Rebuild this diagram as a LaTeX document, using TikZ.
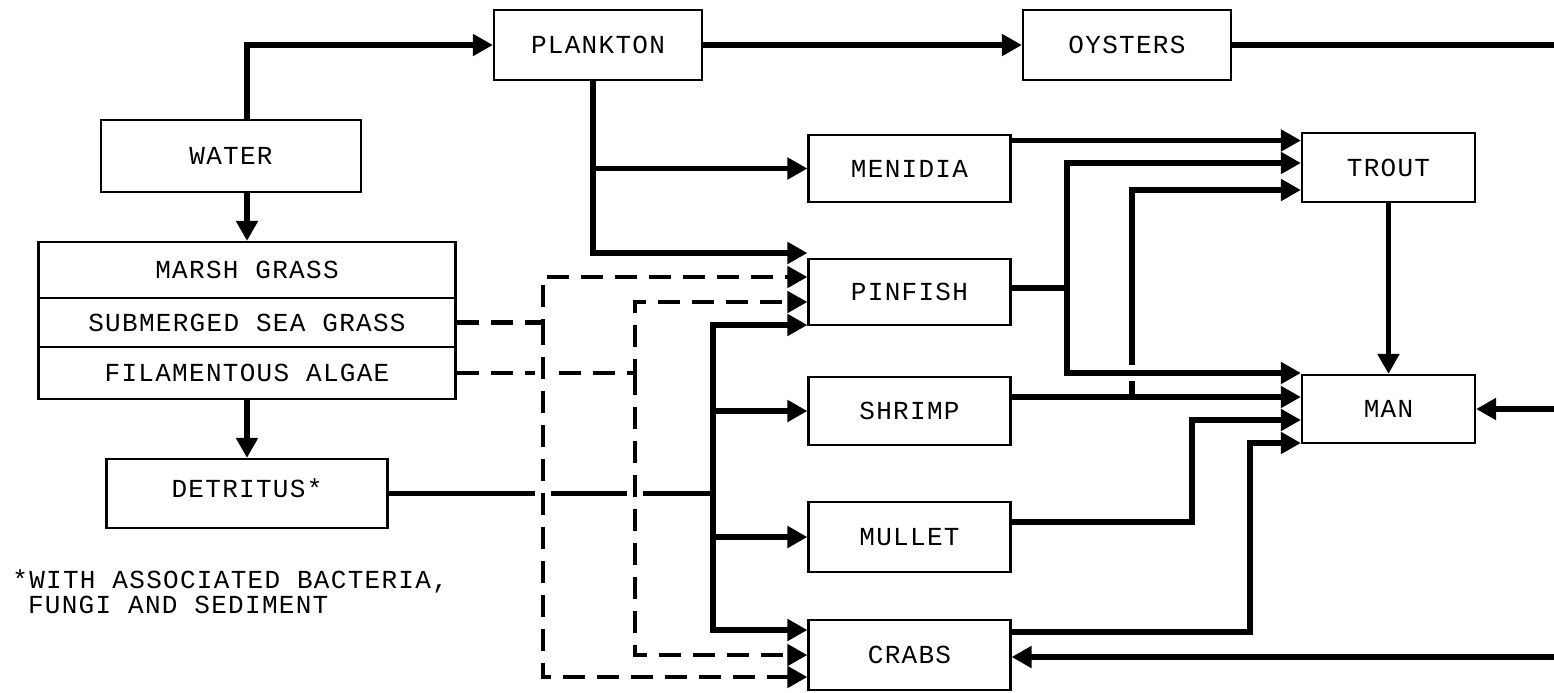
\documentclass[tikz,border=0pt]{standalone}
\usepackage{fontspec}
\setmonofont[LetterSpace=5]{Liberation Mono}
\usetikzlibrary{arrows.meta}

\begin{document}
\begin{tikzpicture}[x=0.5pt,y=-0.5pt,>={Triangle[length=10pt,width=10.5pt]},
    box/.style={draw,line width=1.1pt,inner sep=0pt,font=\ttfamily\fontsize{13}{15}\selectfont},
    flow/.style={->,line width=2.7pt},
    feed/.style={->,line width=2.4pt,dash pattern=on 11pt off 6pt},
    gap/.style={preaction={draw=white,line width=8pt,arrows=-,solid,shorten <=3pt,shorten >=12pt}}]
    \useasboundingbox (0,0) rectangle (1554,692);
    \node[box,minimum width=130pt,minimum height=36pt] (water) at (231,156) {WATER};
    \node[box,minimum width=208.5pt,minimum height=28pt] (marsh) at (247,270) {MARSH GRASS};
    \node[box,minimum width=208.5pt,minimum height=24.5pt] (subm) at (247,322.5) {SUBMERGED SEA GRASS};
    \node[box,minimum width=208.5pt,minimum height=26pt] (fil) at (247,373) {FILAMENTOUS ALGAE};
    \node[box,minimum width=140.5pt,minimum height=34.5pt,text depth=5pt] (detritus) at (247,493.5) {DETRITUS*};
    \node[font=\ttfamily\fontsize{13}{12.5}\selectfont,align=left,inner sep=0pt,anchor=north west] (note) at (12,569)
        {*WITH ASSOCIATED BACTERIA,\\\hphantom{*}FUNGI AND SEDIMENT};
    \node[box,minimum width=104pt,minimum height=35pt] (plankton) at (598,45) {PLANKTON};
    \node[box,minimum width=104pt,minimum height=35pt] (oysters) at (1127,45) {OYSTERS};
    \node[box,minimum width=101pt,minimum height=33.5pt] (menidia) at (909.5,168.5) {MENIDIA};
    \node[box,minimum width=101pt,minimum height=33pt] (pinfish) at (909.5,292) {PINFISH};
    \node[box,minimum width=101pt,minimum height=34pt] (shrimp) at (909.5,411) {SHRIMP};
    \node[box,minimum width=101pt,minimum height=35pt] (mullet) at (909.5,537) {MULLET};
    \node[box,minimum width=101pt,minimum height=35pt] (crabs) at (909.5,655) {CRABS};
    \node[box,minimum width=86.5pt,minimum height=34.5pt] (trout) at (1388.5,167.5) {TROUT};
    \node[box,minimum width=86.5pt,minimum height=34pt] (man) at (1388.5,409) {MAN};
    % bus lines and the open ends at the right border
    \coordinate (seabus) at (543,0);
    \coordinate (algbus) at (635,0);
    \coordinate (detbus) at (713,0);
    \coordinate (pinbus) at (1067,0);
    \coordinate (shrbus) at (1132,0);
    \coordinate (mulbus) at (1192,0);
    \coordinate (crabus) at (1250,0);
    \coordinate (rimtop) at (1554,45);
    \coordinate (rimman) at (1554,409);
    \coordinate (rimcrab) at (1554,657);
    \draw[flow] ([xshift=8pt]water.north) |- (plankton.west);
    \draw[flow] (marsh.north |- water.south) -- (marsh.north);
    \draw[flow] (fil.south) -- (detritus.north);
    \draw[flow] (plankton) -- (oysters);
    \draw[line width=2.7pt] (oysters.east) -- (rimtop);
    \draw[flow] (rimman) -- (man.east);
    \draw[flow] (rimcrab) -- (crabs.east |- rimcrab);
    \draw[flow] ([xshift=-2.5pt]plankton.south) |- (menidia.west);
    \draw[flow] ([xshift=-2.5pt]plankton.south) |- ([yshift=19.5pt]pinfish.west);
    \draw[feed] (subm.east) -- (subm.east -| seabus) |- ([yshift=7.5pt]pinfish.west);
    \draw[feed] (fil.east) -- (fil.east -| algbus) |- ([yshift=-5pt]pinfish.west);
    \draw[flow] (detritus.east) -- (detritus.east -| detbus) |- ([yshift=-16.5pt]pinfish.west);
    \draw[flow] (detritus.east -| detbus) |- (shrimp.west);
    \draw[flow] (detritus.east -| detbus) |- (mullet.west);
    \draw[flow] (detritus.east -| detbus) |- ([yshift=12.5pt]crabs.west);
    \draw[feed,gap] (subm.east -| seabus) |- ([yshift=-11pt]crabs.west);
    \draw[feed,gap] (fil.east -| algbus) |- (crabs.west);
    \draw[flow] ([yshift=14pt]menidia.east) -- ([yshift=14pt]menidia.east -| trout.west);
    \draw[flow] ([yshift=7pt]shrimp.east) -- ([yshift=7pt]shrimp.east -| shrbus) |- ([yshift=-11.25pt]trout.west);
    \draw[flow,gap] ([yshift=2pt]pinfish.east) -- ([yshift=2pt]pinfish.east -| pinbus) |- ([yshift=18pt]man.west);
    \draw[flow] ([yshift=2pt]pinfish.east) -- ([yshift=2pt]pinfish.east -| pinbus) |- ([yshift=2.25pt]trout.west);
    \draw[flow] ([yshift=7pt]shrimp.east) -- ([yshift=7pt]shrimp.east -| man.west);
    \draw[flow] ([yshift=7.5pt]mullet.east) -- ([yshift=7.5pt]mullet.east -| mulbus) |- ([yshift=-5.5pt]man.west);
    \draw[flow] ([yshift=11.5pt]crabs.east) -- ([yshift=11.5pt]crabs.east -| crabus) |- ([yshift=-17pt]man.west);
    \draw[flow] (trout) -- (man);
\end{tikzpicture}
\end{document}
